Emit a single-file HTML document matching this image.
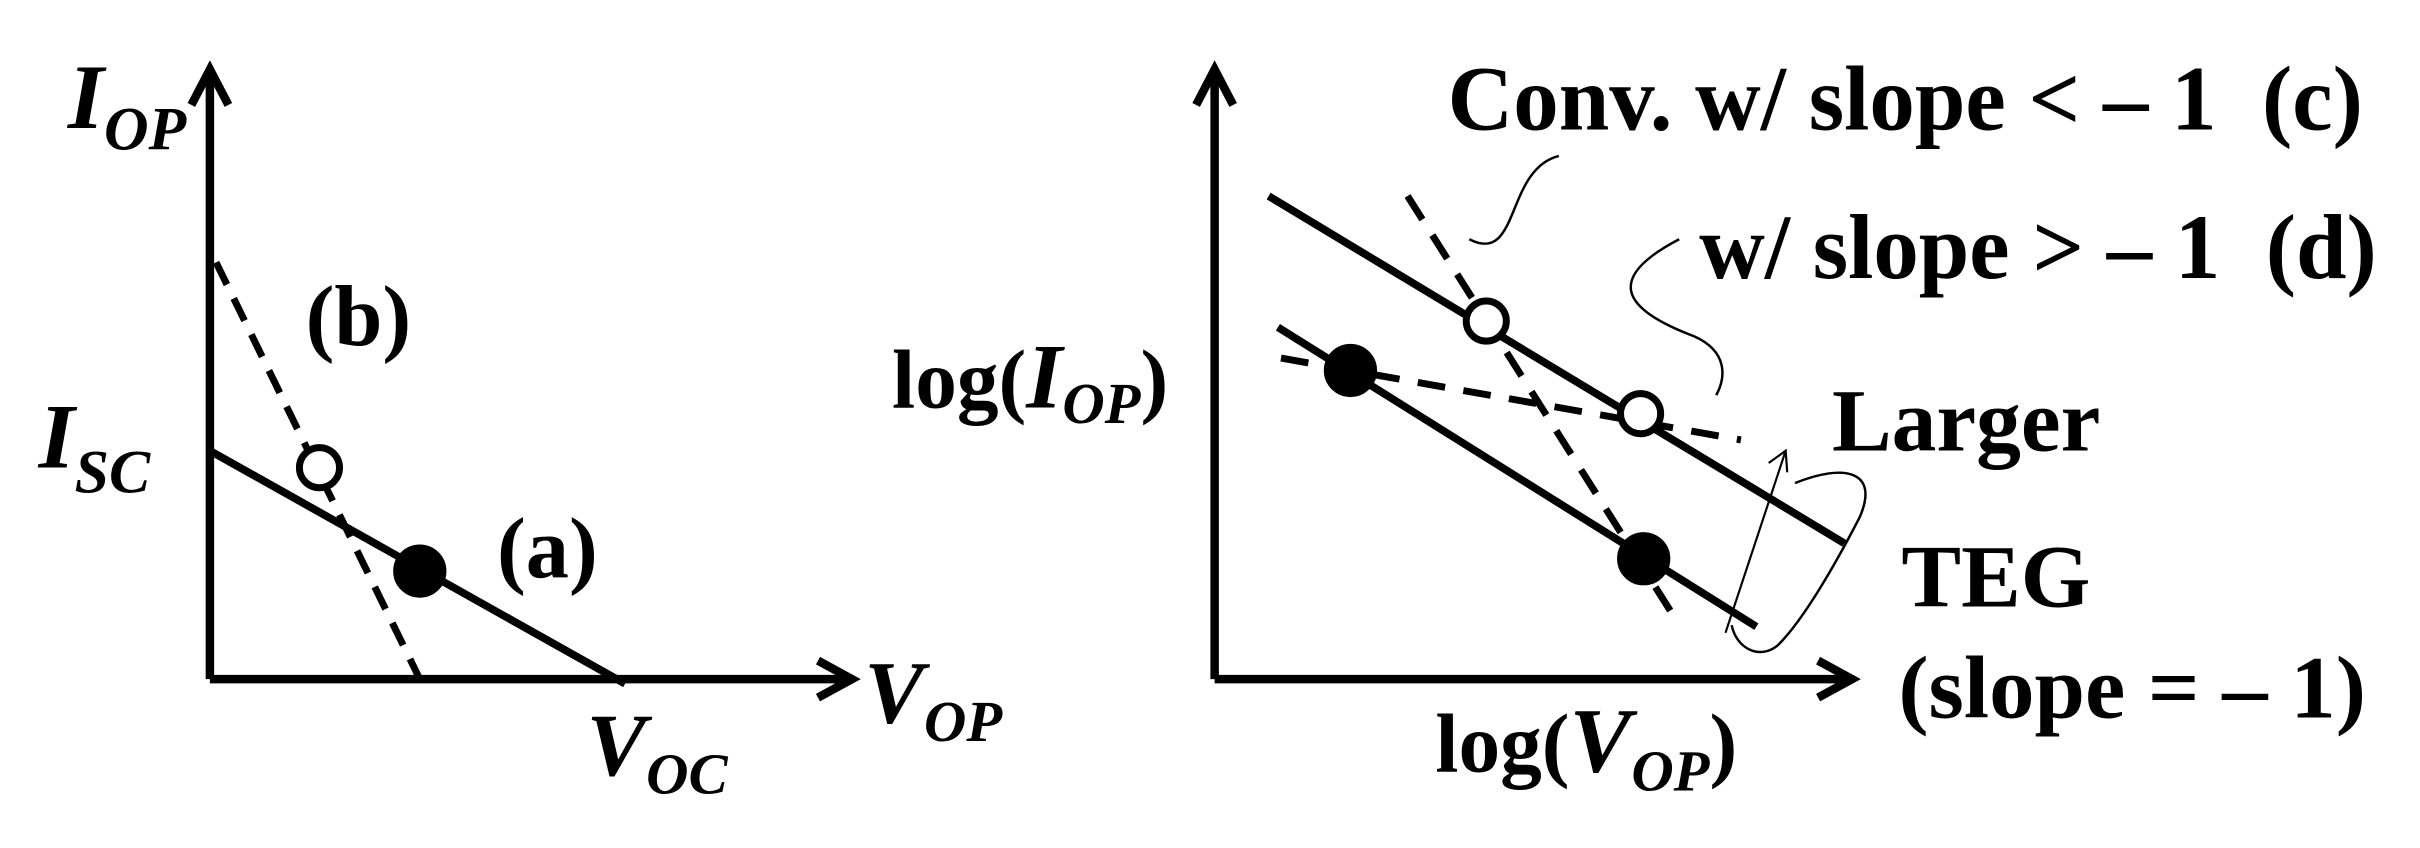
<!DOCTYPE html>
<html><head><style>html,body{margin:0;padding:0;background:#fff;width:2420px;height:848px;overflow:hidden}</style></head>
<body>
<svg width="2420" height="848" viewBox="0 0 1568 549.4" preserveAspectRatio="none" xmlns="http://www.w3.org/2000/svg" font-family="'Liberation Serif', serif" font-weight="bold">
<g stroke="#000" fill="none" stroke-linecap="butt">
<path d="M136 440 V45 M124 68 L136 45 L148 68" stroke-width="5.5"/>
<path d="M136 440 H552 M530 428 L552 440 L530 452" stroke-width="5.5"/>
<line x1="136" y1="292" x2="405" y2="443" stroke-width="5"/>
<line x1="140" y1="170" x2="272" y2="440" stroke-width="4.5" stroke-dasharray="16 10"/>
<path d="M787 440 V45 M775 68 L787 45 L799 68" stroke-width="5.5"/>
<path d="M787 440 H1200 M1178 428 L1200 440 L1178 452" stroke-width="5.5"/>
<line x1="822" y1="127" x2="1195" y2="352" stroke-width="5"/>
<line x1="828" y1="212" x2="1138" y2="406" stroke-width="5"/>
<line x1="912" y1="127" x2="1085" y2="400" stroke-width="4.5" stroke-dasharray="18 12"/>
<line x1="830" y1="232" x2="1128" y2="285" stroke-width="4.5" stroke-dasharray="18 12"/>
<path d="M1010 101 C975 110 985 172 952 155" stroke-width="1.6"/>
<path d="M1088 155 C1040 180 1050 200 1098 218 C1120 228 1118 245 1112 256" stroke-width="1.6"/>
<path d="M1118 410 L1157 292 M1146 300 L1157 292 L1158 306" stroke-width="1.4"/>
<path d="M1163 313 C1195 300 1218 305 1205 335 C1188 368 1168 402 1152 418 C1140 428 1125 420 1122 405" stroke-width="1.6"/>
</g>
<g stroke="#000" stroke-width="4.5">
<circle cx="207" cy="303" r="13" fill="#fff"/>
<circle cx="272" cy="370" r="15" fill="#000"/>
<circle cx="963" cy="208" r="13" fill="#fff"/>
<circle cx="1063" cy="268" r="13" fill="#fff"/>
<circle cx="875" cy="240" r="15" fill="#000"/>
<circle cx="1065" cy="362" r="15" fill="#000"/>
</g>
<g fill="#000" font-size="56">
<text x="44" y="83" font-style="italic" font-size="60">I<tspan font-size="40" dy="14">OP</tspan></text>
<text x="25" y="303" font-style="italic" font-size="60">I<tspan font-size="40" dy="16">SC</tspan></text>
<text x="198" y="224">(b)</text>
<text x="322" y="374">(a)</text>
<text x="560" y="468" font-style="italic" font-size="58">V<tspan font-size="38" dy="12">OP</tspan></text>
<text x="380" y="502" font-style="italic" font-size="58">V<tspan font-size="38" dy="12">OC</tspan></text>
<text x="938" y="84" font-size="60" textLength="593" lengthAdjust="spacingAndGlyphs">Conv. w/ slope &lt; – 1&#160; (c)</text>
<text x="1101" y="180" font-size="60" textLength="439" lengthAdjust="spacingAndGlyphs">w/ slope &gt; – 1&#160; (d)</text>
<text x="578" y="264" font-size="54">log(<tspan font-style="italic" font-size="60">I</tspan><tspan font-style="italic" font-size="38" dy="10">OP</tspan><tspan dy="-10">)</tspan></text>
<text x="1187" y="292" font-size="58">Larger</text>
<text x="1232" y="393" font-size="58">TEG</text>
<text x="1230" y="465" font-size="58" textLength="303" lengthAdjust="spacingAndGlyphs">(slope = – 1)</text>
<text x="930" y="500" font-size="54">log(<tspan font-style="italic" font-size="60">V</tspan><tspan font-style="italic" font-size="38" dy="12">OP</tspan><tspan dy="-12">)</tspan></text>
</g>
</svg>
</body></html>
